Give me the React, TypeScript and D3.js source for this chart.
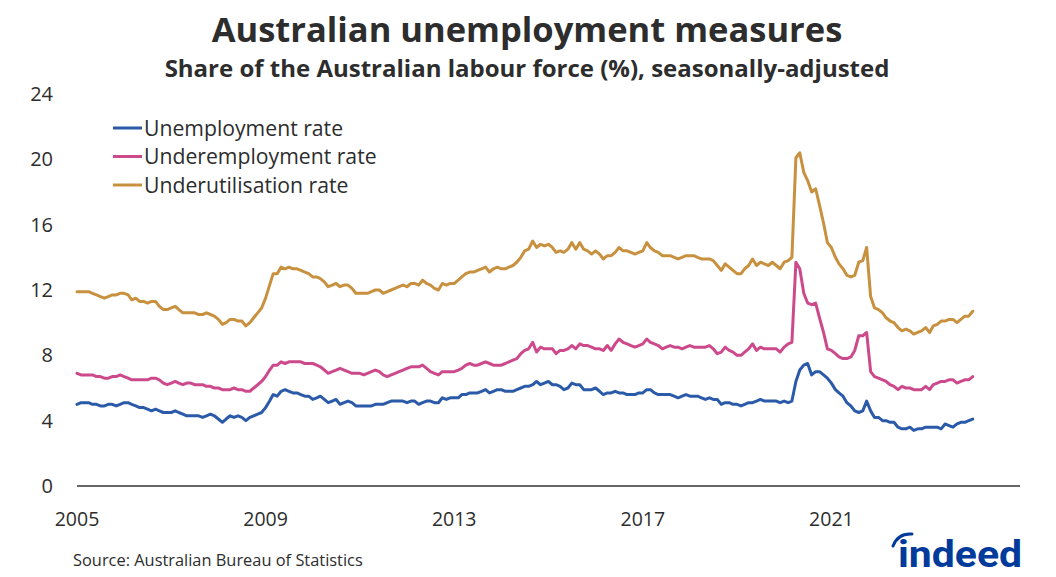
import React from "react";
import * as d3 from "d3";

// Monthly, seasonally-adjusted, Jan 2005 – Jan 2024 (one row per year)
const unemploymentRate: number[] = [
  5.0, 5.1, 5.1, 5.1, 5.0, 5.0, 4.9, 4.9, 5.0, 5.0, 4.9, 5.0, // 2005
  5.1, 5.1, 5.0, 4.9, 4.8, 4.8, 4.7, 4.6, 4.7, 4.6, 4.5, 4.5, // 2006
  4.5, 4.6, 4.5, 4.4, 4.3, 4.3, 4.3, 4.3, 4.2, 4.3, 4.4, 4.3, // 2007
  4.1, 3.9, 4.1, 4.3, 4.2, 4.3, 4.2, 4.0, 4.2, 4.3, 4.4, 4.5, // 2008
  4.8, 5.2, 5.6, 5.5, 5.8, 5.9, 5.8, 5.7, 5.7, 5.6, 5.5, 5.5, // 2009
  5.3, 5.4, 5.5, 5.3, 5.1, 5.2, 5.3, 5.0, 5.1, 5.2, 5.1, 4.9, // 2010
  4.9, 4.9, 4.9, 4.9, 5.0, 5.0, 5.0, 5.1, 5.2, 5.2, 5.2, 5.2, // 2011
  5.1, 5.2, 5.2, 5.0, 5.1, 5.2, 5.2, 5.1, 5.1, 5.4, 5.3, 5.4, // 2012
  5.4, 5.4, 5.6, 5.6, 5.7, 5.7, 5.7, 5.8, 5.9, 5.7, 5.8, 5.9, // 2013
  5.9, 5.8, 5.8, 5.8, 5.9, 6.0, 6.1, 6.1, 6.2, 6.4, 6.2, 6.3, // 2014
  6.4, 6.2, 6.2, 6.1, 5.9, 6.0, 6.3, 6.2, 6.2, 5.9, 5.9, 5.9, // 2015
  6.0, 5.8, 5.6, 5.7, 5.7, 5.8, 5.7, 5.7, 5.6, 5.6, 5.6, 5.7, // 2016
  5.7, 5.9, 5.9, 5.7, 5.6, 5.6, 5.6, 5.6, 5.5, 5.4, 5.5, 5.6, // 2017
  5.5, 5.5, 5.5, 5.4, 5.3, 5.4, 5.3, 5.3, 5.0, 5.1, 5.1, 5.0, // 2018
  5.0, 4.9, 5.0, 5.1, 5.1, 5.2, 5.3, 5.2, 5.2, 5.2, 5.2, 5.1, // 2019
  5.2, 5.1, 5.2, 6.4, 7.1, 7.4, 7.5, 6.8, 7.0, 7.0, 6.8, 6.6, // 2020
  6.3, 5.9, 5.7, 5.5, 5.1, 4.9, 4.6, 4.5, 4.6, 5.2, 4.6, 4.2, // 2021
  4.2, 4.0, 4.0, 3.9, 3.9, 3.6, 3.5, 3.5, 3.6, 3.4, 3.5, 3.5, // 2022
  3.6, 3.6, 3.6, 3.6, 3.5, 3.8, 3.7, 3.6, 3.8, 3.9, 3.9, 4.0, // 2023
  4.1, // 2024
];

const underemploymentRate: number[] = [
  6.9, 6.8, 6.8, 6.8, 6.8, 6.7, 6.7, 6.6, 6.6, 6.7, 6.7, 6.8, // 2005
  6.7, 6.6, 6.5, 6.5, 6.5, 6.5, 6.5, 6.6, 6.6, 6.5, 6.3, 6.2, // 2006
  6.3, 6.4, 6.3, 6.2, 6.3, 6.3, 6.2, 6.2, 6.2, 6.1, 6.1, 6.0, // 2007
  6.0, 5.9, 5.9, 5.9, 6.0, 5.9, 5.9, 5.8, 5.8, 6.0, 6.2, 6.4, // 2008
  6.7, 7.1, 7.4, 7.4, 7.6, 7.5, 7.6, 7.6, 7.6, 7.6, 7.5, 7.5, // 2009
  7.5, 7.4, 7.3, 7.1, 6.9, 7.0, 7.1, 7.2, 7.1, 7.0, 6.9, 6.9, // 2010
  6.9, 6.8, 6.9, 7.0, 7.1, 7.0, 6.8, 6.7, 6.8, 6.9, 7.0, 7.1, // 2011
  7.2, 7.3, 7.3, 7.3, 7.4, 7.2, 7.0, 6.9, 6.8, 7.0, 7.0, 7.0, // 2012
  7.0, 7.1, 7.2, 7.4, 7.5, 7.4, 7.4, 7.5, 7.6, 7.5, 7.4, 7.4, // 2013
  7.4, 7.5, 7.6, 7.7, 7.8, 8.1, 8.3, 8.4, 8.8, 8.2, 8.5, 8.4, // 2014
  8.4, 8.4, 8.1, 8.3, 8.3, 8.4, 8.6, 8.4, 8.7, 8.6, 8.6, 8.5, // 2015
  8.4, 8.4, 8.3, 8.6, 8.3, 8.7, 9.0, 8.8, 8.7, 8.6, 8.5, 8.6, // 2016
  8.7, 9.0, 8.8, 8.7, 8.6, 8.4, 8.5, 8.6, 8.5, 8.5, 8.4, 8.5, // 2017
  8.6, 8.5, 8.5, 8.5, 8.5, 8.6, 8.4, 8.1, 8.2, 8.5, 8.3, 8.2, // 2018
  8.0, 8.0, 8.2, 8.4, 8.7, 8.3, 8.5, 8.4, 8.4, 8.4, 8.4, 8.2, // 2019
  8.5, 8.7, 8.8, 13.7, 13.3, 11.8, 11.2, 11.1, 11.2, 10.3, 9.4, 8.4, // 2020
  8.3, 8.1, 7.9, 7.8, 7.8, 7.9, 8.3, 9.2, 9.2, 9.4, 7.0, 6.7, // 2021
  6.6, 6.5, 6.4, 6.2, 6.1, 5.9, 6.1, 6.0, 6.0, 5.9, 5.9, 5.9, // 2022
  6.1, 5.9, 6.2, 6.3, 6.4, 6.4, 6.5, 6.5, 6.3, 6.4, 6.5, 6.5, // 2023
  6.7, // 2024
];

const underutilisationRate: number[] = [
  11.9, 11.9, 11.9, 11.9, 11.8, 11.7, 11.6, 11.5, 11.6, 11.7, 11.7, 11.8, // 2005
  11.8, 11.7, 11.4, 11.5, 11.3, 11.3, 11.2, 11.3, 11.3, 11.0, 10.8, 10.8, // 2006
  10.9, 11.0, 10.8, 10.6, 10.6, 10.6, 10.6, 10.5, 10.5, 10.6, 10.5, 10.4, // 2007
  10.2, 9.9, 10.0, 10.2, 10.2, 10.1, 10.1, 9.8, 10.0, 10.3, 10.6, 10.9, // 2008
  11.5, 12.3, 13.0, 13.0, 13.4, 13.3, 13.4, 13.3, 13.3, 13.2, 13.1, 13.0, // 2009
  12.8, 12.8, 12.7, 12.5, 12.2, 12.3, 12.4, 12.2, 12.3, 12.3, 12.1, 11.8, // 2010
  11.8, 11.8, 11.8, 11.9, 12.0, 12.0, 11.8, 11.9, 12.0, 12.1, 12.2, 12.3, // 2011
  12.2, 12.4, 12.4, 12.3, 12.6, 12.4, 12.3, 12.1, 12.0, 12.4, 12.3, 12.4, // 2012
  12.4, 12.6, 12.8, 13.0, 13.1, 13.1, 13.2, 13.3, 13.4, 13.1, 13.3, 13.4, // 2013
  13.3, 13.3, 13.4, 13.5, 13.7, 14.0, 14.4, 14.5, 15.0, 14.6, 14.8, 14.7, // 2014
  14.8, 14.6, 14.3, 14.4, 14.3, 14.5, 14.9, 14.5, 14.9, 14.5, 14.4, 14.2, // 2015
  14.4, 14.2, 13.9, 14.1, 14.1, 14.3, 14.6, 14.4, 14.4, 14.3, 14.2, 14.3, // 2016
  14.4, 14.9, 14.6, 14.4, 14.3, 14.1, 14.1, 14.1, 14.0, 13.9, 14.0, 14.1, // 2017
  14.1, 14.1, 14.0, 13.9, 13.9, 13.9, 13.8, 13.5, 13.2, 13.6, 13.4, 13.2, // 2018
  13.0, 13.0, 13.3, 13.5, 13.9, 13.5, 13.7, 13.6, 13.5, 13.7, 13.5, 13.3, // 2019
  13.7, 13.8, 14.0, 20.1, 20.4, 19.2, 18.7, 18.0, 18.2, 17.2, 16.1, 14.9, // 2020
  14.6, 14.0, 13.6, 13.3, 12.9, 12.8, 12.9, 13.7, 13.8, 14.6, 11.6, 10.9, // 2021
  10.8, 10.6, 10.3, 10.1, 10.0, 9.7, 9.5, 9.6, 9.5, 9.3, 9.4, 9.5, // 2022
  9.7, 9.4, 9.8, 9.9, 10.1, 10.1, 10.2, 10.2, 10.0, 10.2, 10.4, 10.4, // 2023
  10.7, // 2024
];

const seriesNames = ["Unemployment rate", "Underemployment rate", "Underutilisation rate"];
const seriesColors = ["#2b5ba8", "#cc4a8c", "#c8913f"];
const yTicks = [0, 4, 8, 12, 16, 20, 24];
const xTickYears = [2005, 2009, 2013, 2017, 2021];
const startMonth = new Date(2005, 0, 1);

const W = 1056;
const H = 577;
const FONT = "'Open Sans', 'Noto Sans', sans-serif";
const TEXT = "#2d2d2d";

export default function App() {
  const x = d3
    .scaleTime()
    .domain([new Date(2005, 0, 1), new Date(2025, 0, 1)])
    .range([77, 1020]);
  const y = d3.scaleLinear().domain([0, 24]).range([486, 94]);

  const allSeries = [unemploymentRate, underemploymentRate, underutilisationRate];
  const line = d3
    .line<number>()
    .x((_, i) => x(d3.timeMonth.offset(startMonth, i)))
    .y((v) => y(v))
    .curve(d3.curveLinear);

  return (
    <svg
      width={W}
      height={H}
      viewBox={`0 0 ${W} ${H}`}
      style={{ position: "absolute", left: 0, top: 0, background: "#fff" }}
      fontFamily={FONT}
    >
      <rect x={0} y={0} width={W} height={H} fill="#fff" />
      <text x={527} y={42} textAnchor="middle" fontSize={34.5} fontWeight={700} fill={TEXT}>
        Australian unemployment measures
      </text>
      <text x={527} y={77} textAnchor="middle" fontSize={24} fontWeight={700} fill={TEXT}>
        Share of the Australian labour force (%), seasonally-adjusted
      </text>

      {yTicks.map((t) => (
        <text key={t} x={53} y={y(t) + 7} textAnchor="end" fontSize={20} fill={TEXT}>
          {t}
        </text>
      ))}

      <line x1={77} x2={1020} y1={y(0)} y2={y(0)} stroke="#333" strokeWidth={1.5} />

      {xTickYears.map((yr) => (
        <text key={yr} x={x(new Date(yr, 0, 1))} y={526} textAnchor="middle" fontSize={19.5} fill={TEXT}>
          {yr}
        </text>
      ))}

      {allSeries.map((s, i) => (
        <path
          key={seriesNames[i]}
          d={line(s) || ""}
          fill="none"
          stroke={seriesColors[i]}
          strokeWidth={3}
          strokeLinejoin="round"
          strokeLinecap="round"
        />
      ))}

      {seriesNames.map((n, i) => (
        <g key={n} transform={`translate(0, ${128 + i * 28.5})`}>
          <line x1={113} x2={142} y1={0} y2={0} stroke={seriesColors[i]} strokeWidth={3} />
          <text x={144} y={7.5} fontSize={21.2} fill={TEXT}>
            {n}
          </text>
        </g>
      ))}

      <text x={73} y={566} fontSize={16.4} fill={TEXT}>
        Source: Australian Bureau of Statistics
      </text>

      <g>
        <text
          x={898}
          y={567}
          fontSize={37}
          fontWeight={700}
          fill="#003a9b"
          textLength={124}
          lengthAdjust="spacingAndGlyphs"
          fontFamily="Roboto, 'Open Sans', sans-serif"
        >
          indeed
        </text>
        <path d="M 893 546 Q 898 533 912 534" fill="none" stroke="#003a9b" strokeWidth={3} strokeLinecap="round" />
      </g>
    </svg>
  );
}
